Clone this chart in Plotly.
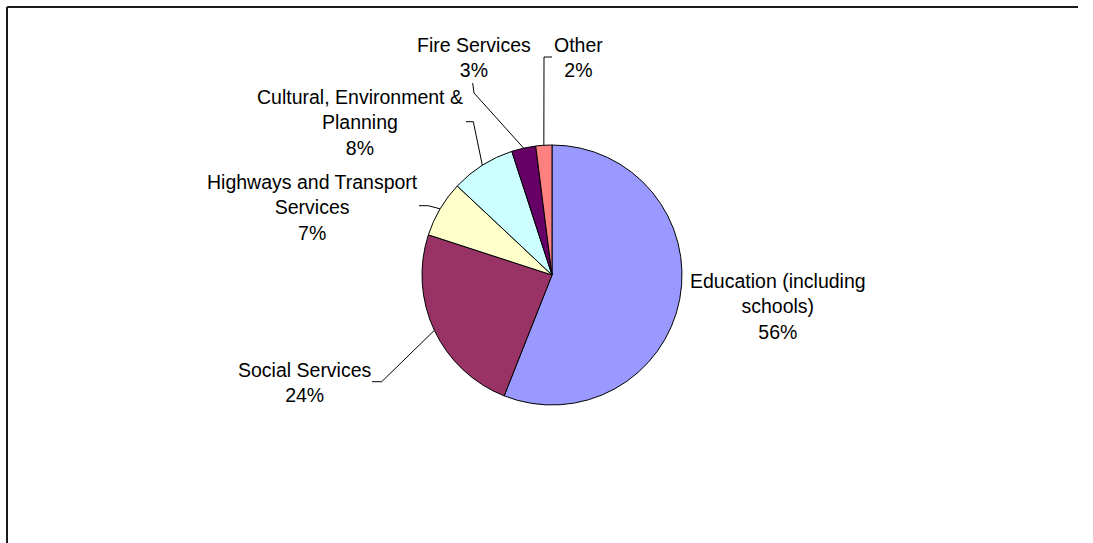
import math
import plotly.graph_objects as go

# Spending breakdown by service
categories = [
    "Education (including schools)",
    "Social Services",
    "Highways and Transport Services",
    "Cultural, Environment & Planning",
    "Fire Services",
    "Other",
]
label_text = [
    "Education (including<br>schools)",
    "Social Services",
    "Highways and Transport<br>Services",
    "Cultural, Environment &<br>Planning",
    "Fire Services",
    "Other",
]
shares = [56, 24, 7, 8, 3, 2]
colors = ["#9999FF", "#993366", "#FFFFCC", "#CCFFFF", "#660066", "#FF8080"]

W, H = 1093, 543
CX, CY, R = 552, 275, 130
FONT = dict(family="Liberation Sans, Arial, sans-serif", size=19.5, color="#000000")

# Label block centres and leader-line elbows (pixel space, y downwards)
label_pos = [(778, 306), (305, 382), (312, 207), (360, 122), (474, 57), (578, 57)]
leader_elbows = [
    None,
    [(372, 381.7), (381.7, 381.7)],
    [(419, 205.7), (428.3, 205.7)],
    [(466, 121.7), (473.3, 121.7)],
    [(472.7, 83), (474, 93)],
    [(552, 57), (544, 57)],
]

fig = go.Figure()
fig.add_trace(go.Pie(
    labels=categories,
    values=shares,
    sort=False,
    direction="clockwise",
    rotation=0,
    textinfo="none",
    hoverinfo="label+percent",
    marker=dict(colors=colors, line=dict(color="#000000", width=1)),
    domain=dict(x=[(CX - R) / W, (CX + R) / W], y=[1 - (CY + R) / H, 1 - (CY - R) / H]),
    showlegend=False,
))

total = sum(shares)
shapes = []
annotations = []
cum = 0.0
for i, v in enumerate(shares):
    mid = (cum + v / 2) / total * 2 * math.pi
    cum += v
    px = CX + R * math.sin(mid)
    py = CY - R * math.cos(mid)
    lx, ly = label_pos[i]
    annotations.append(dict(
        x=lx, y=ly, xref="x", yref="y",
        text=f"{label_text[i]}<br>{round(v / total * 100)}%",
        showarrow=False, align="center", xanchor="center", yanchor="middle",
        font=FONT,
    ))
    if leader_elbows[i]:
        pts = leader_elbows[i] + [(px, py)]
        path = "M " + " L ".join(f"{x},{y}" for x, y in pts)
        shapes.append(dict(type="path", path=path, xref="x", yref="y",
                           line=dict(color="#000000", width=1)))

# Chart area frame: top and left edges only
shapes.append(dict(type="line", xref="x", yref="y", x0=7, y0=7, x1=W - 15, y1=7,
                   line=dict(color="#1a1a1a", width=2), layer="above"))
shapes.append(dict(type="line", xref="x", yref="y", x0=7, y0=7, x1=7, y1=H,
                   line=dict(color="#1a1a1a", width=2), layer="above"))

fig.update_layout(
    width=W, height=H,
    margin=dict(l=0, r=0, t=0, b=0),
    paper_bgcolor="#FFFFFF", plot_bgcolor="rgba(0,0,0,0)",
    xaxis=dict(range=[0, W], visible=False, fixedrange=True),
    yaxis=dict(range=[H, 0], visible=False, fixedrange=True),
    shapes=shapes,
    annotations=annotations,
)

fig.write_html("out.html", config={"displayModeBar": False})
